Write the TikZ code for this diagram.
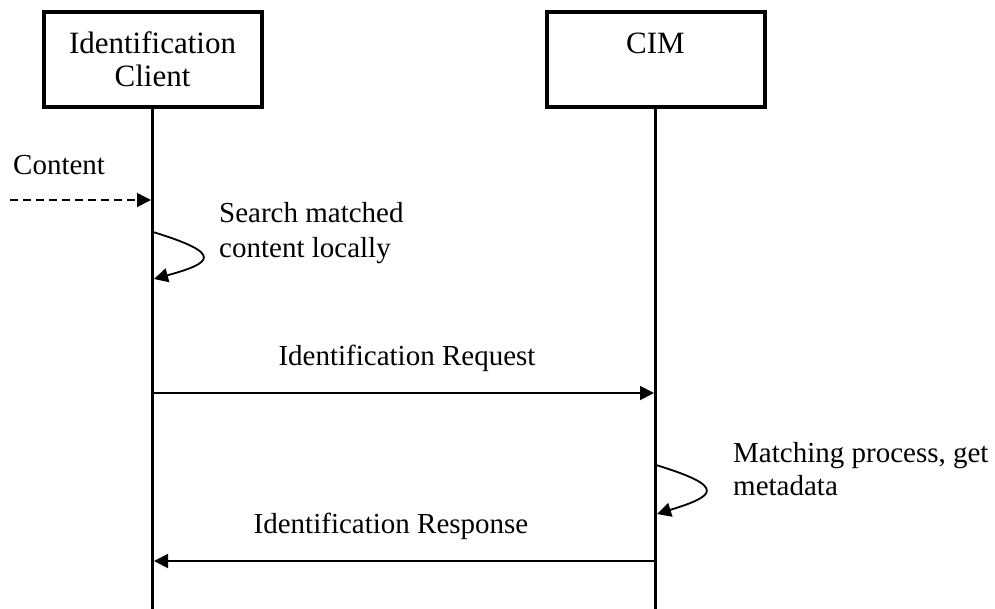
\documentclass[tikz,border=0pt]{standalone}
\usepackage{fontspec}
\setmainfont{Liberation Serif}
\usetikzlibrary{arrows.meta}
\begin{document}
\begin{tikzpicture}[x=1pt,y=-1pt,
  actor/.style={draw,line width=4pt,minimum width=218pt,minimum height=95pt,inner sep=0pt,align=center,font=\fontsize{31}{33}\selectfont},
  lbl/.style={font=\fontsize{29}{33}\selectfont,inner sep=0pt},
  msg/.style={line width=1.8pt,-{Triangle[length=14pt,width=14pt]}},
  life/.style={line width=3.3pt}]
\useasboundingbox (0,0) rectangle (995,608);
% actors
\node[actor] (client) at (152.5,59.5) {Identification\\Client};
\node[actor] (cim) at (655.5,59.5) {CIM\\\phantom{Client}};
% lifeline ends
\coordinate (cbot) at (152.5,612);
\coordinate (mbot) at (655.5,612);
\draw[life] (client.south) -- (cbot);
\draw[life] (cim.south) -- (mbot);
% message points
\coordinate (cin) at (10,200);
\coordinate (c1) at (151,200);
\coordinate (c2) at (153,232);
\coordinate (c3) at (154,279);
\coordinate (c4) at (153,393);
\coordinate (m4) at (654,393);
\coordinate (m5) at (656,465);
\coordinate (m6) at (657,514);
\coordinate (m7) at (655,561);
\coordinate (c7) at (154,561);
% content in
\draw[msg,line width=1.5pt,dash pattern=on 8pt off 5pt] (cin) -- (c1);
\node[lbl,anchor=base west] (content) at (13,174) {Content};
% local search
\draw[msg] (c2) .. controls (225,254) and (212,263) .. (c3);
\node[lbl,anchor=base west] (search1) at (219,222) {Search matched};
\node[lbl,anchor=base west] (search2) at (219,257) {content locally};
% request
\draw[msg] (c4) -- (m4);
\node[lbl,anchor=base] (reqlbl) at (407,365) {Identification Request};
% matching
\draw[msg] (m5) .. controls (728,487) and (715,496) .. (m6);
\node[lbl,anchor=base west] (match1) at (733,462) {Matching process, get};
\node[lbl,anchor=base west] (match2) at (733,495) {metadata};
% response
\draw[msg] (m7) -- (c7);
\node[lbl,anchor=base] (reslbl) at (391,533) {Identification Response};
\end{tikzpicture}
\end{document}
